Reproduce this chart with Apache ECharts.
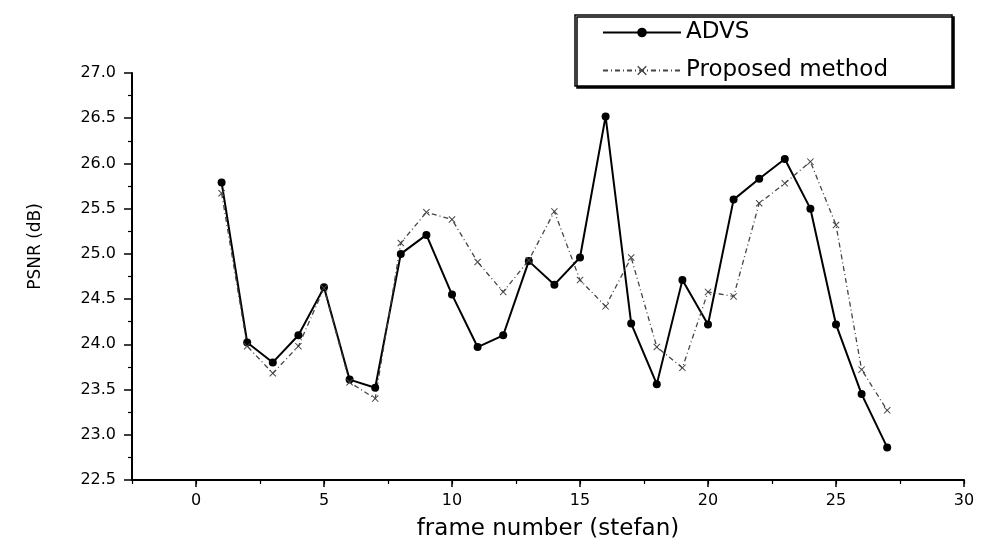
<!DOCTYPE html>
<html>
<head>
<meta charset="utf-8">
<script src="https://cdn.jsdelivr.net/npm/echarts@6/dist/echarts.min.js"></script>
<style>
html,body{margin:0;padding:0;background:#fff;}
#chart{width:995px;height:547px;}
</style>
</head>
<body>
<div id="chart"></div>
<script>
var frames = [1,2,3,4,5,6,7,8,9,10,11,12,13,14,15,16,17,18,19,20,21,22,23,24,25,26,27];
var advs = [25.79,24.02,23.80,24.10,24.63,23.61,23.52,25.00,25.21,24.55,23.97,24.10,24.92,24.66,24.96,26.52,24.23,23.56,24.71,24.22,25.60,25.83,26.05,25.50,24.22,23.45,22.86];
var proposed = [25.67,23.98,23.68,23.98,24.62,23.58,23.40,25.12,25.46,25.38,24.91,24.58,24.93,25.47,24.71,24.42,24.96,23.97,23.74,24.58,24.53,25.56,25.78,26.02,25.32,23.72,23.27];
var xTickValues = [0,5,10,15,20,25,30];
var seriesNames = ['ADVS','Proposed method'];
var xTitle = 'frame number (stefan)';
var yTitle = 'PSNR (dB)';

function pairs(xs, ys){ return xs.map(function(x,i){ return [x, ys[i]]; }); }

var xSymbol = 'path://M0,1L1,0L5,4L9,0L10,1L6,5L10,9L9,10L5,6L1,10L0,9L4,5Z';
var font = 'DejaVu Sans';

var chart = echarts.init(document.getElementById('chart'), null, {renderer:'canvas'});
chart.setOption({
  animation: false,
  backgroundColor: '#fff',
  grid: {left:132, right:31, top:73, bottom:67, containLabel:false},
  legend: {
    data: seriesNames,
    orient: 'vertical',
    left: 575, top: 15,
    itemWidth: 78, itemHeight: 12, itemGap: 15,
    padding: [6, 64, 4, 27],
    textStyle: {fontSize: 23, fontFamily: font, color: '#000'},
    backgroundColor: '#fff',
    borderColor: '#000', borderWidth: 1.5, borderRadius: 0,
    shadowColor: '#000', shadowOffsetX: 2, shadowOffsetY: 2, shadowBlur: 0
  },
  xAxis: [{
    type: 'value', min: -2.5, max: 30,
    axisLine: {onZero:false, lineStyle: {color:'#000', width:2}},
    axisTick: {customValues: xTickValues, length: 7, lineStyle:{color:'#000', width:1.5}},
    axisLabel: {customValues: xTickValues, fontSize: 16, fontFamily: font, color:'#000', margin: 13},
    splitLine: {show:false},
    name: xTitle, nameLocation: 'middle', nameGap: 38,
    nameTextStyle: {fontSize: 23, fontFamily: font, color:'#000'}
  },{
    type: 'value', min: -2.5, max: 30, interval: 2.5, position: 'bottom',
    axisLine: {show:false, onZero:false},
    axisTick: {length: 4, lineStyle:{color:'#000', width:1.2}},
    axisLabel: {show:false},
    splitLine: {show:false}
  }],
  yAxis: {
    type: 'value', min: 22.5, max: 27, interval: 0.5, position: 'left',
    axisLine: {show:true, onZero:false, lineStyle: {color:'#000', width:2}},
    axisTick: {show:true, length: 8, lineStyle:{color:'#000', width:1.5}},
    minorTick: {show:true, splitNumber: 2, length: 4, lineStyle:{color:'#000', width:1.2}},
    axisLabel: {fontSize: 16, fontFamily: font, color:'#000', margin: 16,
      formatter: function(v){ return v.toFixed(1); }},
    splitLine: {show:false},
    name: yTitle, nameLocation: 'middle', nameGap: 88,
    nameTextStyle: {fontSize: 17, fontFamily: font, color:'#000', padding:[0,0,0,60]}
  },
  series: [{
    name: seriesNames[0], type: 'line', xAxisIndex: 0,
    data: pairs(frames, advs),
    symbol: 'circle', symbolSize: 8, showSymbol: true,
    lineStyle: {color:'#000', width:2},
    itemStyle: {color:'#000'}
  },{
    name: seriesNames[1], type: 'line', xAxisIndex: 0,
    data: pairs(frames, proposed),
    symbol: xSymbol, symbolSize: 7, showSymbol: true,
    lineStyle: {color:'#444', width:1.3, type:[5,3,1,3]},
    itemStyle: {color:'#444'}
  }]
});
</script>
</body>
</html>
